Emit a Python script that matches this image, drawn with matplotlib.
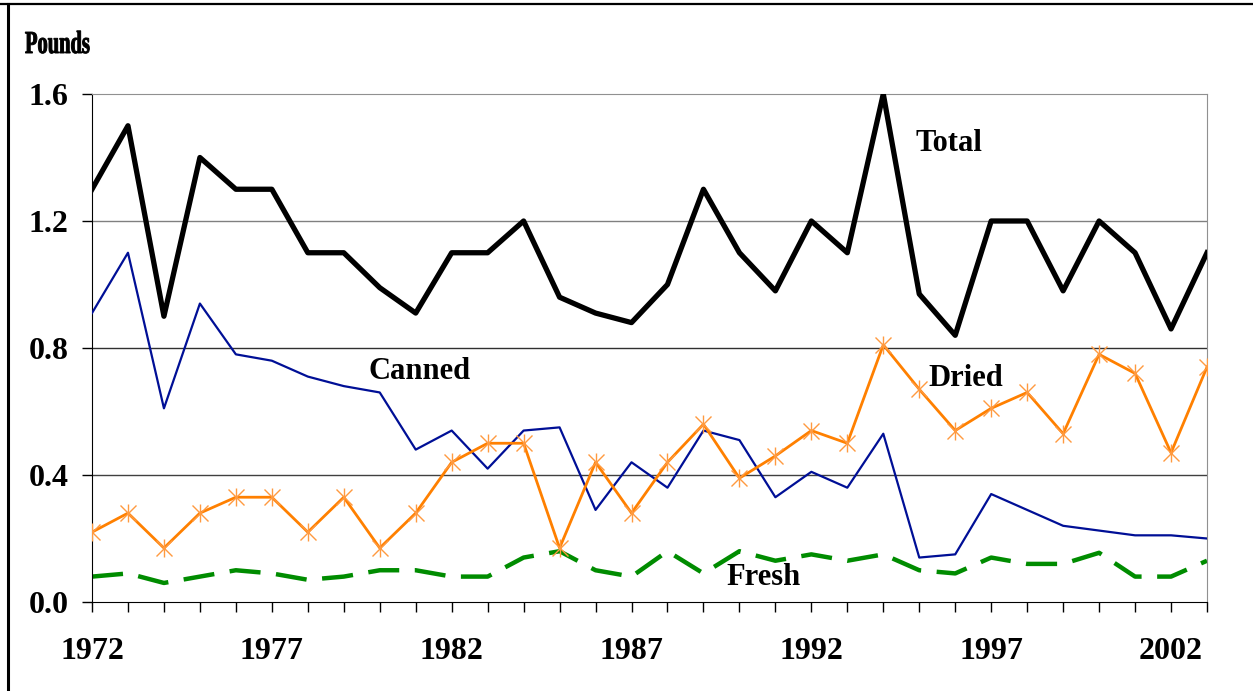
# IMPORTS
import matplotlib.pyplot as plt
import numpy as np
from matplotlib.lines import Line2D
from matplotlib.patches import PathPatch
from matplotlib.textpath import TextPath
from matplotlib.font_manager import FontProperties
from matplotlib.transforms import Affine2D

# DATA (pounds per capita)
years = np.arange(1972, 2004)
total = [1.30, 1.50, 0.90, 1.40, 1.30, 1.30, 1.10, 1.10, 0.99, 0.91,
         1.10, 1.10, 1.20, 0.96, 0.91, 0.88, 1.00, 1.30, 1.10, 0.98,
         1.20, 1.10, 1.60, 0.97, 0.84, 1.20, 1.20, 0.98, 1.20, 1.10,
         0.86, 1.10]
canned = [0.91, 1.10, 0.61, 0.94, 0.78, 0.76, 0.71, 0.68, 0.66, 0.48,
          0.54, 0.42, 0.54, 0.55, 0.29, 0.44, 0.36, 0.54, 0.51, 0.33,
          0.41, 0.36, 0.53, 0.14, 0.15, 0.34, 0.29, 0.24, 0.225, 0.21,
          0.21, 0.20]
dried = [0.22, 0.28, 0.17, 0.28, 0.33, 0.33, 0.22, 0.33, 0.17, 0.28,
         0.44, 0.50, 0.50, 0.17, 0.44, 0.28, 0.44, 0.56, 0.39, 0.46,
         0.54, 0.50, 0.81, 0.67, 0.54, 0.61, 0.66, 0.53, 0.78, 0.72,
         0.47, 0.74]
fresh = [0.08, 0.09, 0.06, 0.08, 0.10, 0.09, 0.07, 0.08, 0.10, 0.10,
         0.08, 0.08, 0.14, 0.16, 0.10, 0.08, 0.16, 0.09, 0.16, 0.13,
         0.15, 0.13, 0.15, 0.10, 0.09, 0.14, 0.12, 0.12, 0.155, 0.08,
         0.08, 0.13]
year_labels = [1972, 1977, 1982, 1987, 1992, 1997, 2002]
y_ticks = [0.0, 0.4, 0.8, 1.2, 1.6]

W, H = 1253, 691
font = 'Liberation Serif'

if __name__ == '__main__':
    fig = plt.figure(figsize=(W / 100, H / 100), dpi=100)
    ax = fig.add_axes([92 / W, 1 - 602 / H, (1207 - 92) / W, (602 - 94) / H])

    # grid lines
    for v, c in [(0.4, '#404040'), (0.8, '#303030'), (1.2, '#808080')]:
        ax.axhline(v, color=c, lw=1.0, zorder=1)

    # SERIES
    ax.plot(years, fresh, color='#008c00', lw=3.2, dashes=(7, 3.5), zorder=2)
    ax.plot(years, canned, color='#000f96', lw=1.6, zorder=3)
    ax.plot(years, dried, color='#ff8000', lw=2.0, zorder=4)
    ax.plot(years, dried, ls='none', marker='x', ms=11, mew=1.0,
            color='#ff9a40', zorder=5)
    ax.plot(years, dried, ls='none', marker='|', ms=13, mew=1.0,
            color='#ff9a40', zorder=5)
    ax.plot(years, total, color='black', lw=3.8, zorder=6)

    # series labels
    lab = dict(fontsize=22, fontweight='bold', family=font, va='center')
    ax.text(1994.9, 1.445, 'Total', **lab)
    ax.text(1979.7, 0.725, 'Canned', **lab)
    ax.text(1995.25, 0.705, 'Dried', **lab)
    ax.text(1989.65, 0.078, 'Fresh', **lab)

    # AXES
    ax.set_xlim(1972, 2003)
    ax.set_ylim(0, 1.6)
    ax.set_xticks(years)
    ax.set_xticklabels([str(y) if y in year_labels else '' for y in years])
    ax.set_yticks(y_ticks)
    ax.set_yticklabels(['%.1f' % v for v in y_ticks])
    ax.tick_params(axis='x', direction='out', length=7, width=1, pad=18)
    ax.tick_params(axis='y', direction='out', length=7, width=1, pad=10)
    for t in ax.get_xticklabels() + ax.get_yticklabels():
        t.set_fontsize(23)
        t.set_fontweight('bold')
        t.set_family(font)
    ax.spines['left'].set_color('black')
    ax.spines['bottom'].set_color('black')
    ax.spines['top'].set_color('#909090')
    ax.spines['right'].set_color('#909090')

    # "Pounds" in a narrow face: squeeze the glyph outlines sideways
    tp = TextPath((0, 0), 'Pounds', size=32,
                  prop=FontProperties(family=font, weight='bold'))
    tr = Affine2D().scale(0.64, 1.0).translate(25, H - 53)
    fig.add_artist(PathPatch(tp, transform=tr, facecolor='black',
                             edgecolor='black', lw=0.7))

    # outer frame (top and left edges)
    fig.add_artist(Line2D([0, 1], [1 - 3.5 / H] * 2, color='black', lw=1.6,
                          transform=fig.transFigure))
    fig.add_artist(Line2D([8 / W] * 2, [0, 1 - 3.5 / H], color='black', lw=2.2,
                          transform=fig.transFigure))

    fig.savefig('out.png', dpi=100)
